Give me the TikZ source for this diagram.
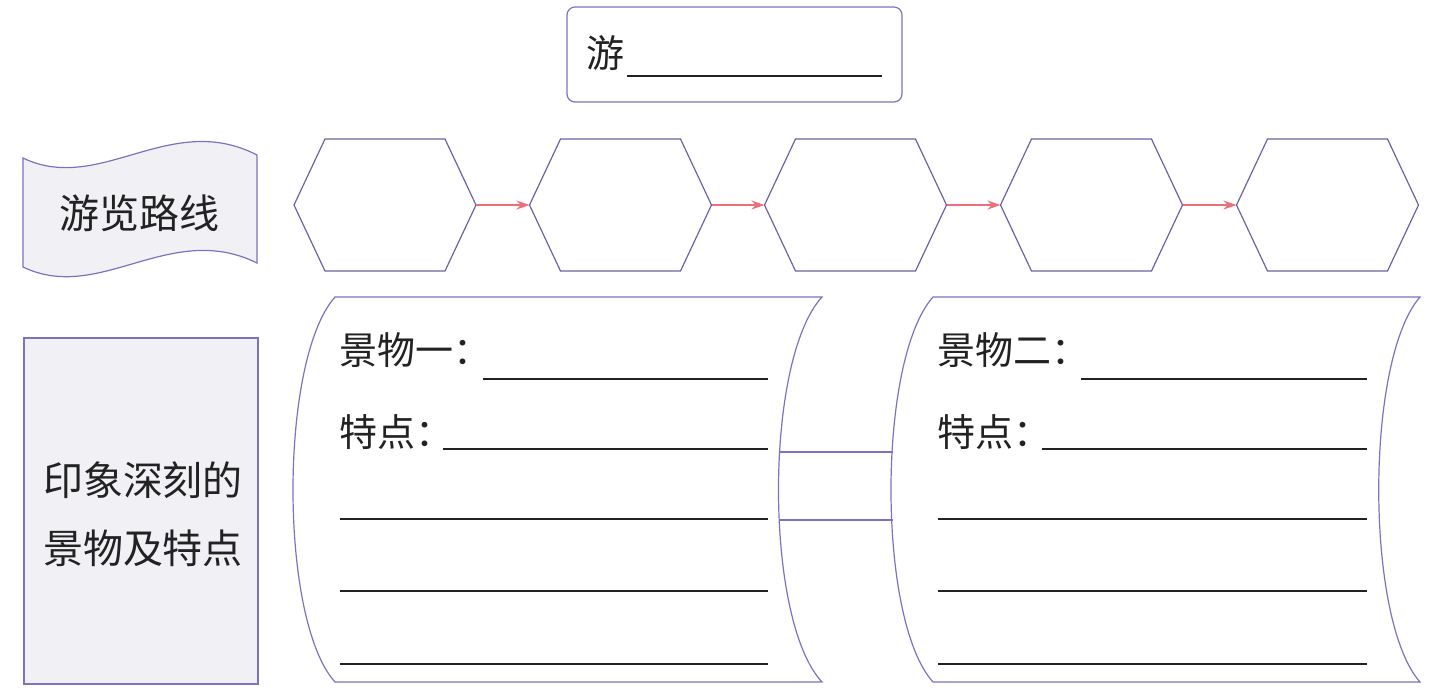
\documentclass[tikz,border=0pt]{standalone}
\usepackage{fontspec}
\newfontfamily\cjk{Noto Sans CJK SC}
\usetikzlibrary{arrows.meta,calc}
\definecolor{frame}{HTML}{7E72C0}
\definecolor{panelfill}{HTML}{F1F0F5}
\definecolor{arrowred}{HTML}{EE6E78}
\definecolor{ink}{HTML}{222222}
\tikzset{
  framed/.style={draw=frame, line width=0.6pt},
  paneltext/.style={font=\cjk\fontsize{20}{34}\selectfont, text=ink, align=center, inner sep=0pt},
  label/.style={font=\cjk\fontsize{19}{23}\selectfont, text=ink, inner sep=0pt, anchor=west},
  blank/.style={draw=ink, line width=0.75pt},
  hexline/.style={draw=frame!85!black, line width=0.6pt},
  routearrow/.style={draw=arrowred, line width=0.75pt, -{Stealth[length=6.5pt,width=4.5pt]}},
}
\begin{document}
\begin{tikzpicture}[x=0.5pt,y=-0.5pt]
\useasboundingbox (0,0) rectangle (1453,693);

% title box
\node[framed, rounded corners=4pt, minimum width=167.5pt, minimum height=47.5pt, inner sep=0pt] (title) at (734.5,54.5) {};
\node[label] (you) at (586,53) {游};
\draw[blank] (627,76) -- (882,76);

% flag
\fill[panelfill] (23,158) .. controls (100,195) and (170,110) .. (257,155) -- (257,263) .. controls (170,220) and (100,304) .. (23,267) -- cycle;
\draw[framed] (23,158) .. controls (100,195) and (170,110) .. (257,155) -- (257,263) .. controls (170,220) and (100,304) .. (23,267) -- cycle;
\node[paneltext] (route) at (140,213) {游览路线};

% left rectangle
\node[framed, fill=panelfill, minimum width=117pt, minimum height=173pt, inner sep=0pt] (impress) at (141,511) {};
\node[paneltext] (impresstext) at (143,514) {印象深刻的\\景物及特点};

% hexagons
\foreach \i/\cx in {1/385,2/620.5,3/855.5,4/1091.5,5/1327.5}{
  \draw[hexline] (\cx-91,205) -- (\cx-60,139) -- (\cx+60,139) -- (\cx+91,205) -- (\cx+60,271) -- (\cx-60,271) -- cycle;
  \coordinate (hL\i) at (\cx-91,205);
  \coordinate (hR\i) at (\cx+91,205);
}
\foreach \a/\b in {1/2,2/3,3/4,4/5}{
  \draw[routearrow] (hR\a) -- (hL\b);
}

% left scroll
\draw[framed, fill=white] (335,297) -- (822,297) .. controls (764,360) and (764,620) .. (822,682) -- (335,682) .. controls (279,620) and (279,360) .. (335,297) -- cycle;
% right scroll
\draw[framed, fill=white] (933,297) -- (1420,297) .. controls (1365,360) and (1365,620) .. (1420,682) -- (933,682) .. controls (877,620) and (877,360) .. (933,297) -- cycle;

% links between scrolls
\coordinate (la) at (779,452);
\coordinate (lb) at (779,520);
\coordinate (ra) at (893,452);
\coordinate (rb) at (893,520);
\draw[framed] (la) -- (ra);
\draw[framed] (lb) -- (rb);

% left scroll text
\node[label] (s1) at (339,350) {景物一：};
\draw[blank] (483,379) -- (768,379);
\node[label] (t1) at (339,432) {特点：};
\draw[blank] (443,449) -- (768,449);
\foreach \y in {519,591,664}{\draw[blank] (340,\y) -- (768,\y);}

% right scroll text
\node[label] (s2) at (937,350) {景物二：};
\draw[blank] (1081,379) -- (1367,379);
\node[label] (t2) at (937,432) {特点：};
\draw[blank] (1042,449) -- (1367,449);
\foreach \y in {519,591,664}{\draw[blank] (938,\y) -- (1367,\y);}
\end{tikzpicture}
\end{document}
